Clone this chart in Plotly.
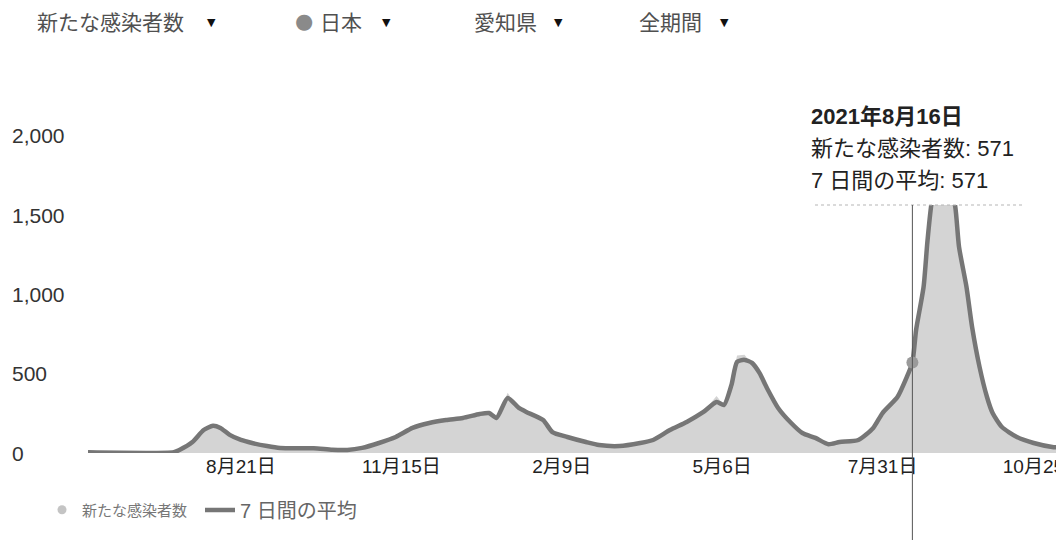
import plotly.graph_objects as go

# ---------------- data ----------------
dates = [
    "2020-05-31", "2020-07-16", "2020-07-19", "2020-07-26", "2020-08-01", "2020-08-06",
    "2020-08-10", "2020-08-15", "2020-08-21", "2020-08-27", "2020-09-04", "2020-09-11",
    "2020-09-29", "2020-10-09", "2020-10-17", "2020-10-25", "2020-11-03", "2020-11-12",
    "2020-11-21", "2020-11-30", "2020-12-09", "2020-12-18", "2020-12-27", "2021-01-01",
    "2021-01-05", "2021-01-11", "2021-01-17", "2021-01-21", "2021-01-30", "2021-02-04",
    "2021-02-12", "2021-02-22", "2021-03-01", "2021-03-12", "2021-03-23", "2021-03-30",
    "2021-04-08", "2021-04-17", "2021-04-26", "2021-05-03", "2021-05-07", "2021-05-11",
    "2021-05-14", "2021-05-18", "2021-05-22", "2021-05-26", "2021-05-30", "2021-06-05",
    "2021-06-12", "2021-06-18", "2021-06-25", "2021-07-02", "2021-07-08", "2021-07-18",
    "2021-07-26", "2021-07-31", "2021-08-08", "2021-08-13", "2021-08-16", "2021-08-18",
    "2021-08-22", "2021-08-24", "2021-08-26", "2021-08-29", "2021-09-01", "2021-09-04",
    "2021-09-08", "2021-09-10", "2021-09-14", "2021-09-17", "2021-09-21", "2021-09-25",
    "2021-09-28", "2021-10-03", "2021-10-11", "2021-10-20", "2021-10-30", "2021-11-02",
]
avg7 = [
    4, 5, 19, 69, 145, 172,
    158, 114, 82, 63, 44, 32,
    30, 20, 19, 32, 63, 101,
    158, 189, 208, 221, 246, 252,
    221, 347, 284, 259, 208, 132,
    101, 69, 50, 44, 63, 82,
    145, 196, 259, 322, 303, 429,
    574, 587, 568, 505, 410, 284,
    189, 126, 95, 55, 69, 82,
    158, 252, 353, 479, 571, 776,
    1047, 1325, 1552, 1780, 1850, 1760,
    1552, 1300, 1047, 795, 543, 353,
    252, 164, 101, 63, 38, 35,
]
daily = [
    3, 4, 16, 62, 138, 165,
    150, 108, 76, 58, 40, 28,
    27, 17, 16, 28, 58, 95,
    150, 182, 215, 212, 240, 245,
    210, 380, 275, 250, 200, 125,
    95, 64, 46, 40, 58, 76,
    138, 190, 262, 360, 300, 450,
    615, 620, 560, 495, 400, 276,
    182, 120, 90, 50, 64, 78,
    150, 250, 340, 470, 571, 760,
    1030, 1310, 1540, 1760, 1830, 1740,
    1530, 1280, 1030, 780, 530, 345,
    245, 158, 96, 58, 34, 31,
]

x_tick_vals = ["2020-08-21", "2020-11-15", "2021-02-09", "2021-05-06", "2021-07-31", "2021-10-25"]
x_tick_text = ["8月21日", "11月15日", "2月9日", "5月6日", "7月31日", "10月25日"]
y_tick_vals = [0, 500, 1000, 1500, 2000]
y_tick_text = ["0", "500", "1,000", "1,500", "2,000"]

menu_items = ["新たな感染者数", "日本", "愛知県", "全期間"]
series_names = ["新たな感染者数", "7 日間の平均"]
hover_date = "2021-08-16"
hover_title = "2021年8月16日"
hover_daily = 571
hover_avg = 571

x_range = ["2020-05-31", "2021-11-01"]
y_range = [0, 2200]

# ---------------- layout helpers ----------------
W, H = 1056, 549
ML, MR, MT, MB = 88, 0, 104, 96
PW, PH = W - ML - MR, H - MT - MB

def px(x):
    return (x - ML) / PW

def py(y):
    return (H - MB - y) / PH

FONT = "Liberation Sans, Arial, Noto Sans CJK JP, sans-serif"

fig = go.Figure()

# daily cases (area)
fig.add_trace(go.Scatter(
    x=dates, y=daily, mode="lines", line=dict(width=0, color="#cccccc"),
    fill="tozeroy", fillcolor="#d4d4d4", showlegend=False, hoverinfo="skip",
))
# 7-day average
fig.add_trace(go.Scatter(
    x=dates, y=avg7, mode="lines", name=series_names[1], legend="legend2",
    line=dict(color="#767676", width=4.5, shape="spline", smoothing=0.6),
    hoverinfo="skip",
))
# legend-only entry for daily cases (dot symbol)
fig.add_trace(go.Scatter(
    x=[None], y=[None], mode="markers", name=series_names[0], legend="legend",
    marker=dict(size=9, color="#c4c4c4"),
))
# hover point
fig.add_trace(go.Scatter(
    x=[hover_date], y=[hover_avg], mode="markers", showlegend=False,
    marker=dict(size=12, color="#9a9a9a"), hoverinfo="skip",
))

shapes = [
    # tooltip white box hiding the peak
    dict(type="rect", xref="paper", yref="paper", x0=px(798), x1=px(1042),
         y0=py(205), y1=py(92), fillcolor="white", line=dict(width=0), layer="above"),
    # dotted bottom edge of tooltip
    dict(type="line", xref="paper", yref="paper", x0=px(815), x1=px(1025),
         y0=py(205), y1=py(205), line=dict(color="#b5b5b5", width=1, dash="dot"), layer="above"),
    # cursor line
    dict(type="line", xref="x", yref="paper", x0=hover_date, x1=hover_date,
         y0=py(540), y1=py(205), line=dict(color="#555555", width=1), layer="above"),
]

annotations = []
# y tick labels, left aligned
for v, t in zip(y_tick_vals, y_tick_text):
    annotations.append(dict(x=px(10), xref="paper", y=v, yref="y", text=t, showarrow=False,
                            xanchor="left", yanchor="middle",
                            font=dict(family=FONT, size=21, color="#333333")))

# top menu
menu_x = [35, 318, 472, 637]
arrow_x = [211, 386, 558, 724]
for t, x0, ax in zip(menu_items, menu_x, arrow_x):
    annotations.append(dict(x=px(x0), xref="paper", y=py(21), yref="paper", text=t, showarrow=False,
                            xanchor="left", yanchor="middle",
                            font=dict(family="Noto Sans CJK JP", size=21, color="#505050")))
    annotations.append(dict(x=px(ax), xref="paper", y=py(22), yref="paper", text="▼", showarrow=False,
                            xanchor="center", yanchor="middle",
                            font=dict(family="DejaVu Sans", size=11, color="#111111")))
annotations.append(dict(x=px(304), xref="paper", y=py(21), yref="paper", text="●", showarrow=False,
                        xanchor="center", yanchor="middle",
                        font=dict(family="DejaVu Sans", size=21, color="#8a8a8a")))

# tooltip text
tip_lines = [
    f"<b>{hover_title}</b>",
    f"{series_names[0]}: {hover_daily}",
    f"{series_names[1]}: {hover_avg}",
]
for i, t in enumerate(tip_lines):
    annotations.append(dict(x=px(809), xref="paper", y=py(116 + 32 * i), yref="paper", text=t,
                            showarrow=False, xanchor="left", yanchor="middle",
                            font=dict(family=FONT, size=22, color="#222222")))

fig.update_layout(
    width=W, height=H, autosize=False,
    margin=dict(l=ML, r=MR, t=MT, b=MB, pad=0, autoexpand=False),
    paper_bgcolor="white", plot_bgcolor="white",
    font=dict(family=FONT, color="#333333"),
    xaxis=dict(range=x_range, type="date", showgrid=False, zeroline=False, showline=False,
               tickvals=x_tick_vals, ticktext=x_tick_text, ticks="", ticklabeloverflow="allow",
               automargin=False,
               tickfont=dict(family=FONT, size=19, color="#222222"), fixedrange=True),
    yaxis=dict(range=y_range, showgrid=False, zeroline=False, showline=False, automargin=False,
               showticklabels=False, ticks="", fixedrange=True),
    showlegend=True,
    legend=dict(orientation="h", x=px(42), y=py(510), xanchor="left", yanchor="middle",
                font=dict(family=FONT, size=15, color="#777777"),
                bgcolor="rgba(0,0,0,0)", itemclick=False),
    legend2=dict(orientation="h", x=px(200), y=py(510), xanchor="left", yanchor="middle",
                 font=dict(family=FONT, size=20, color="#666666"),
                 bgcolor="rgba(0,0,0,0)", itemclick=False),
    shapes=shapes, annotations=annotations,
    hovermode=False,
)

fig.write_html(
    "out.html",
    config={"displayModeBar": False, "staticPlot": True, "responsive": False},
    post_script="document.body.style.margin='0px';document.body.style.padding='0px';document.body.style.overflow='hidden';",
)
